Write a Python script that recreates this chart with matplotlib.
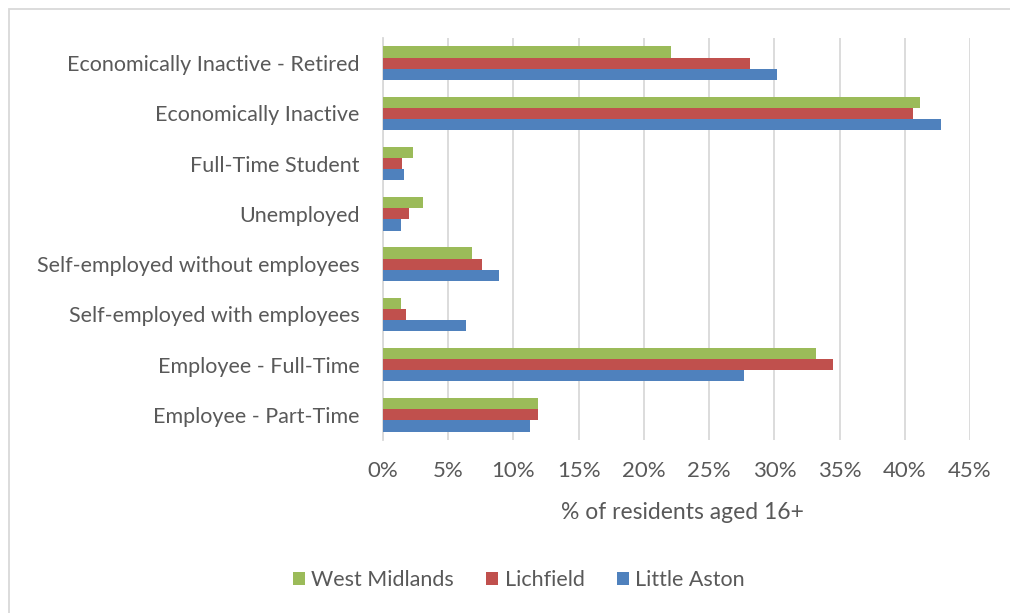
import numpy as np
import matplotlib
matplotlib.use("Agg")
import matplotlib.pyplot as plt
from matplotlib.patches import Rectangle

categories = ['Employee - Part-Time', 'Employee - Full-Time', 'Self-employed with employees',
              'Self-employed without employees', 'Unemployed', 'Full-Time Student',
              'Economically Inactive', 'Economically Inactive - Retired']
west_midlands = [11.9, 33.2, 1.35, 6.8, 3.1, 2.3, 41.2, 22.1]
lichfield = [11.9, 34.5, 1.75, 7.6, 2.0, 1.45, 40.6, 28.1]
little_aston = [11.3, 27.7, 6.35, 8.9, 1.35, 1.6, 42.8, 30.2]
series = ['West Midlands', 'Lichfield', 'Little Aston']
colors = ['#9BBB59', '#C0504D', '#4F81BD']
xticks = list(range(0, 50, 5))

plt.rcParams['font.family'] = ['Lato', 'DejaVu Sans']
txt = '#595959'

fig = plt.figure(figsize=(10.1, 6.13), dpi=100)
ax = fig.add_axes([383/1010, 1-440/613, (970-383)/1010, (440-38)/613])

y = np.arange(len(categories))
h = 0.222
for vals, off, c, name in zip([west_midlands, lichfield, little_aston], [h, 0, -h], colors, series):
    ax.barh(y + off, vals, height=h, color=c, label=name, zorder=3)

ax.set_xlim(0, 45)
ax.set_ylim(-0.5, len(categories) - 0.5)
ax.set_xticks(xticks)
ax.set_xticklabels([f'{t}%' for t in xticks], fontsize=16)
ax.set_yticks(y)
ax.set_yticklabels(categories, fontsize=15.5)
ax.tick_params(length=0, colors=txt)
ax.tick_params(axis='x', pad=15)
ax.tick_params(axis='y', pad=17)
ax.grid(axis='x', color='#d9d9d9', lw=1.3, zorder=0)
for s in ['top', 'right', 'bottom']:
    ax.spines[s].set_visible(False)
ax.spines['left'].set_color('#d9d9d9')
ax.spines['left'].set_linewidth(1.3)
ax.set_xlabel('% of residents aged 16+', fontsize=16.5, color=txt, labelpad=18)
ax.xaxis.set_label_coords(0.51, -0.155)

fig.legend(loc='center', bbox_to_anchor=(519/1010, 1-580/613), ncol=3, frameon=False,
           fontsize=15.5, labelcolor=txt, handlelength=0.55, handleheight=0.55,
           handletextpad=0.3, columnspacing=1.5)

# chart border
fig.patches.append(Rectangle((9/1010, -0.1), 1.2, 1 - 9/613 + 0.1, transform=fig.transFigure,
                             fill=False, ec='#d9d9d9', lw=1.3))

fig.savefig('out.png', dpi=100)
